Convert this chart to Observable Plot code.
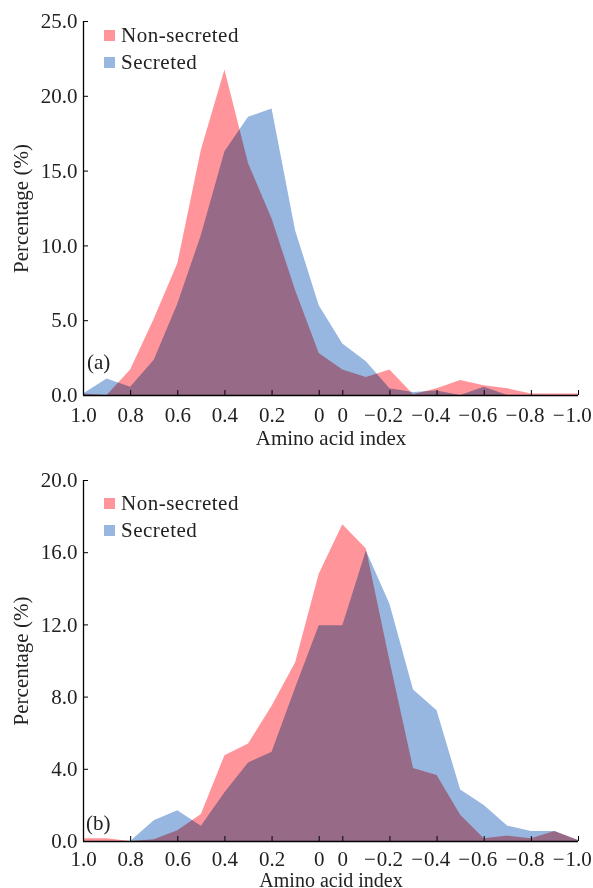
<!DOCTYPE html>
<html>
<head>
<meta charset="utf-8">
<script src="https://cdn.jsdelivr.net/npm/d3@7"></script>
<script src="https://cdn.jsdelivr.net/npm/@observablehq/plot@0.6"></script>
<style>
  body { margin: 0; background: white; }
  #wrap { position: relative; width: 593px; height: 888px; overflow: hidden; font-family: "Liberation Serif", serif; color: #222; }
  .panel { position: absolute; left: 0; width: 593px; }
  .panel svg { overflow: visible; }
  g[aria-label="area"] { mix-blend-mode: multiply; }
  .leg { position: absolute; font-size: 21px; line-height: 24px; letter-spacing: 0.5px; white-space: nowrap; }
  .sw { display: inline-block; width: 11px; height: 11px; margin-right: 6px; vertical-align: 1px; }
  .tag { position: absolute; font-size: 21px; line-height: 24px; }
</style>
</head>
<body>
<div id="wrap">
  <div class="panel" id="pa" style="top:0;height:450px"></div>
  <div class="panel" id="pb" style="top:450px;height:438px"></div>
</div>
<script>
// Bin categories (amino acid index), left to right
const binLabels = ["1.0","0.9","0.8","0.7","0.6","0.5","0.4","0.3","0.2","0.1","0","0",
  "−0.1","−0.2","−0.3","−0.4","−0.5","−0.6","−0.7","−0.8","−0.9","−1.0"];
// Tick positions (bin indices) and labels
const xTickIdx = [0, 2, 4, 6, 8, 10, 11, 13, 15, 17, 19, 21];
const xTickLabels = ["1.0","0.8","0.6","0.4","0.2","0","0","−0.2","−0.4","−0.6","−0.8","−1.0"];

// Panel (a)
const nonSecretedA = [0.1, 0, 1.7, 5.1, 8.8, 16.4, 21.75, 15.5, 11.8, 7.0, 2.8, 1.7, 1.2, 1.7, 0.05, 0.45, 1.0, 0.65, 0.45, 0.1, 0.1, 0.1];
const secretedA    = [0.1, 1.1, 0.55, 2.35, 6.1, 10.7, 16.3, 18.6, 19.15, 11.0, 6.0, 3.45, 2.25, 0.45, 0.2, 0.3, 0, 0.55, 0, 0, 0, 0];
const yTicksA = [0, 5, 10, 15, 20, 25];

// Panel (b)
const nonSecretedB = [0.15, 0.15, 0, 0.1, 0.6, 1.5, 4.75, 5.4, 7.5, 9.9, 14.8, 17.55, 16.2, 10.0, 4.05, 3.65, 1.45, 0.15, 0.3, 0.15, 0.55, 0.05];
const secretedB    = [0, 0, 0, 1.15, 1.7, 0.85, 2.7, 4.35, 4.95, 8.5, 11.95, 11.95, 16.1, 13.15, 8.4, 7.25, 2.85, 2.0, 0.85, 0.55, 0.55, 0.05];
const yTicksB = [0, 4, 8, 12, 16, 20];

const seriesNames = ["Non-secreted", "Secreted"];
const colors = ["#ff959a", "#97b6e0"];

function panel(nonSec, sec, yTicks, height, marginTop, marginBottom, labelOffset, tickDy, labelSize) {
  const rows = (vals) => vals.map((v, i) => ({i, v, bin: binLabels[i]}));
  const ticks = xTickIdx.map((t, k) => ({i: t, label: xTickLabels[k]}));
  const negTicks = ticks.filter(d => d.label.startsWith("−"));
  return Plot.plot({
    width: 593,
    height,
    marginLeft: 83,
    marginRight: 15,
    marginTop,
    marginBottom,
    x: {domain: [0, 21], axis: null},
    y: {domain: [0, yTicks[yTicks.length - 1]], axis: null},
    style: {fontFamily: "Liberation Serif, serif", fontSize: "21px", color: "#222", background: "none", overflow: "visible"},
    marks: [
      Plot.areaY(rows(nonSec), {x: "i", y: "v", fill: colors[0], mixBlendMode: "multiply"}),
      Plot.areaY(rows(sec), {x: "i", y: "v", fill: colors[1], mixBlendMode: "multiply"}),
      // inward ticks
      Plot.axisY({ticks: yTicks, tickSize: 5, dx: 5, tickFormat: () => "", label: null, stroke: "#000"}),
      Plot.axisX({ticks: xTickIdx, tickSize: 5, dy: -5, tickFormat: () => "", label: null, stroke: "#000"}),
      // x axis title
      Plot.text(["Amino acid index"], {frameAnchor: "bottom", lineAnchor: "bottom", dy: labelOffset, fontSize: labelSize, fill: "#222"}),
      // y tick labels + title
      Plot.axisY({ticks: yTicks, tickSize: 0, tickPadding: 6, tickFormat: d => d.toFixed(1),
        label: "Percentage (%)", labelAnchor: "center", labelArrow: "none", labelOffset: 70, fill: "#222"}),
      // x tick labels: numeric part centred on the tick, minus sign hanging to the left
      Plot.text(ticks, {x: "i", text: d => d.label.replace("−", ""), frameAnchor: "bottom", lineAnchor: "top", dy: tickDy, fill: "#222"}),
      Plot.text(negTicks, {x: "i", text: () => "−", frameAnchor: "bottom", lineAnchor: "top", textAnchor: "end", dy: tickDy, dx: -14, fill: "#222"}),
      // spines
      Plot.ruleX([0], {stroke: "#000", strokeWidth: 1.3}),
      Plot.ruleY([0], {stroke: "#000", strokeWidth: 1.3})
    ]
  });
}

function legendHTML(top) {
  return seriesNames.map((n, k) =>
    `<div class="leg" style="left:104px;top:${top + k * 27}px"><span class="sw" style="background:${colors[k]}"></span>${n}</div>`
  ).join("");
}

document.getElementById("pa").appendChild(panel(nonSecretedA, secretedA, yTicksA, 450, 21, 55, 49, 12, 21));
document.getElementById("pb").appendChild(panel(nonSecretedB, secretedB, yTicksB, 438, 30, 47, 45, 10, 20));

const wrap = document.getElementById("wrap");
wrap.insertAdjacentHTML("beforeend", legendHTML(23) + legendHTML(491));
wrap.insertAdjacentHTML("beforeend",
  `<div class="tag" style="left:87px;top:350px">(a)</div><div class="tag" style="left:86px;top:811px">(b)</div>`);
</script>
</body>
</html>
